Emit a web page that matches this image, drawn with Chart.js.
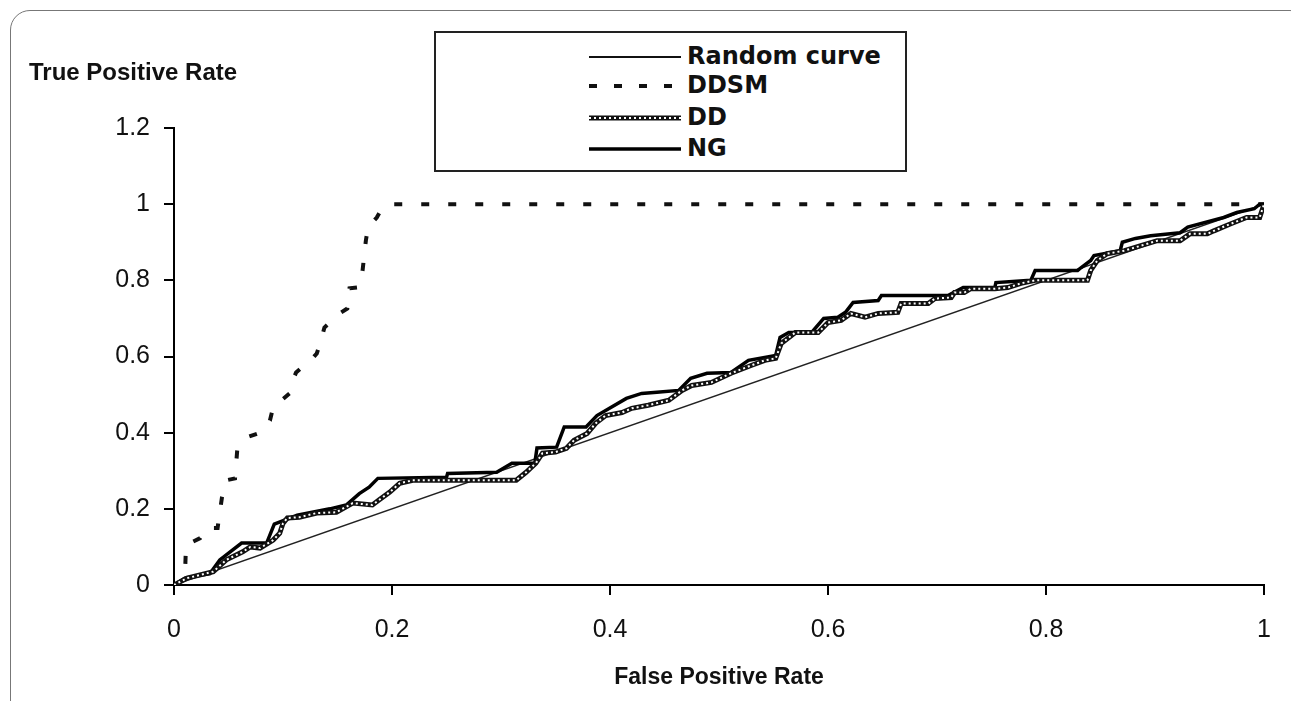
<!DOCTYPE html>
<html>
<head>
<meta charset="utf-8">
<script src="https://cdn.jsdelivr.net/npm/chart.js@4/dist/chart.umd.min.js"></script>
<style>
  body { margin: 0; background: #fff; width: 1291px; height: 701px; overflow: hidden; position: relative; }
  #frame { position: absolute; left: 10px; top: 10px; width: 1300px; height: 800px;
           border: 1.5px solid #777; border-radius: 20px; box-sizing: border-box; }
  #roc { position: absolute; left: 0; top: 0; width: 1291px; height: 701px; }
  #ytitle { position: absolute; left: 29px; top: 58px; font: bold 24px "Liberation Sans", Arial, sans-serif; color: #111; }
  #legend { position: absolute; left: 434px; top: 31px; width: 473px; height: 141px;
            border: 2px solid #222; box-sizing: border-box; background: #fff; }
  .row { position: absolute; left: 0; height: 30px; width: 100%; }
  .row svg { position: absolute; left: 151px; top: 0; }
  .row span { position: absolute; left: 251px; top: 0; line-height: 30px;
              font: bold 24px "DejaVu Sans", Verdana, sans-serif; color: #111; }
</style>
</head>
<body>
<div id="frame"></div>
<canvas id="roc" width="1291" height="701"></canvas>
<div id="ytitle">True Positive Rate</div>
<div id="legend"></div>
<script>
// Random curve (diagonal)
var randomX = [0, 1];
var randomY = [0, 1];

// DDSM
var ddsmX = [0, 0.004, 0.01, 0.011, 0.024, 0.03, 0.04, 0.044, 0.048, 0.056, 0.058, 0.067, 0.079, 0.088, 0.091,
             0.106, 0.109, 0.112, 0.127, 0.131, 0.134, 0.138, 0.152, 0.159, 0.161, 0.17, 0.173, 0.176, 0.178,
             0.186, 0.191, 0.198, 1];
var ddsmY = [0, 0.005, 0.02, 0.105, 0.123, 0.15, 0.15, 0.23, 0.275, 0.28, 0.354, 0.388, 0.40, 0.432, 0.467,
             0.503, 0.537, 0.558, 0.595, 0.608, 0.634, 0.676, 0.713, 0.726, 0.779, 0.782, 0.826, 0.904, 0.94,
             0.965, 0.99, 1.0, 1.0];

// DD
var ddX = [0, 0.012, 0.036, 0.048, 0.063, 0.07, 0.079, 0.091, 0.097, 0.1, 0.104, 0.115, 0.131, 0.149, 0.164,
           0.182, 0.188, 0.198, 0.207, 0.219, 0.255, 0.314, 0.323, 0.332, 0.338, 0.35, 0.36, 0.367, 0.379,
           0.387, 0.396, 0.411, 0.42, 0.435, 0.454, 0.466, 0.475, 0.493, 0.511, 0.53, 0.542, 0.552, 0.557,
           0.57, 0.591, 0.6, 0.612, 0.621, 0.634, 0.646, 0.664, 0.667, 0.692, 0.698, 0.713, 0.716, 0.725,
           0.731, 0.753, 0.765, 0.777, 0.79, 0.838, 0.841, 0.847, 0.856, 0.872, 0.887, 0.902, 0.923, 0.932,
           0.948, 0.954, 0.969, 0.984, 0.996, 1.0];
var ddY = [0, 0.018, 0.035, 0.066, 0.087, 0.1, 0.097, 0.118, 0.136, 0.162, 0.176, 0.178, 0.189, 0.191, 0.215,
           0.21, 0.223, 0.244, 0.267, 0.275, 0.275, 0.275, 0.296, 0.32, 0.346, 0.349, 0.359, 0.38, 0.398,
           0.425, 0.445, 0.453, 0.464, 0.472, 0.485, 0.511, 0.524, 0.532, 0.556, 0.577, 0.59, 0.595, 0.634,
           0.663, 0.663, 0.689, 0.695, 0.713, 0.703, 0.713, 0.716, 0.739, 0.739, 0.752, 0.755, 0.768, 0.768,
           0.778, 0.778, 0.781, 0.792, 0.8, 0.8, 0.826, 0.852, 0.87, 0.878, 0.891, 0.904, 0.904, 0.922,
           0.922, 0.93, 0.948, 0.965, 0.965, 1.0];

// NG
var ngX = [0, 0.01, 0.033, 0.042, 0.062, 0.085, 0.092, 0.113, 0.143, 0.158, 0.17, 0.179, 0.187, 0.25, 0.251,
           0.296, 0.31, 0.331, 0.333, 0.351, 0.358, 0.378, 0.388, 0.415, 0.429, 0.443, 0.463, 0.474, 0.489,
           0.511, 0.527, 0.552, 0.556, 0.564, 0.585, 0.596, 0.609, 0.616, 0.623, 0.646, 0.649, 0.71, 0.724,
           0.753, 0.754, 0.786, 0.79, 0.829, 0.832, 0.841, 0.844, 0.868, 0.87, 0.882, 0.896, 0.923, 0.93,
           0.963, 0.975, 0.991, 0.996, 1.0];
var ngY = [0, 0.018, 0.03, 0.066, 0.11, 0.11, 0.16, 0.183, 0.2, 0.21, 0.24, 0.257, 0.28, 0.283, 0.293,
           0.296, 0.32, 0.32, 0.36, 0.362, 0.415, 0.415, 0.445, 0.49, 0.503, 0.506, 0.511, 0.543, 0.556,
           0.558, 0.59, 0.603, 0.65, 0.663, 0.663, 0.7, 0.703, 0.716, 0.742, 0.747, 0.76, 0.76, 0.781,
           0.781, 0.794, 0.8, 0.826, 0.826, 0.833, 0.852, 0.865, 0.878, 0.9, 0.91, 0.917, 0.925, 0.94,
           0.965, 0.978, 0.988, 1.0, 1.0];

var yTicks = [0, 0.2, 0.4, 0.6, 0.8, 1, 1.2];
var xTicks = [0, 0.2, 0.4, 0.6, 0.8, 1];

function pts(xs, ys) {
    var out = [];
    for (var i = 0; i < xs.length; i++) out.push({ x: xs[i], y: ys[i] });
    return out;
}
function tickText(v) { return String(Math.round(v * 10) / 10); }

var tickFont = { family: '"Liberation Sans", Arial, sans-serif', size: 25 };

var chart = new Chart(document.getElementById('roc'), {
    type: 'scatter',
    data: {
        datasets: [
            { label: 'DD', data: pts(ddX, ddY), showLine: true, borderColor: '#fff', borderWidth: 2,
              borderDash: [2, 3], pointRadius: 0, order: 0 },
            { label: 'DD', data: pts(ddX, ddY), showLine: true, borderColor: '#111', borderWidth: 5,
              pointRadius: 0, order: 1 },
            { label: 'NG', data: pts(ngX, ngY), showLine: true, borderColor: '#000', borderWidth: 3.5,
              pointRadius: 0, order: 2 },
            { label: 'DDSM', data: pts(ddsmX, ddsmY), showLine: true, borderColor: '#111', borderWidth: 4,
              borderDash: [8, 19], pointRadius: 0, order: 3 },
            { label: 'Random curve', data: pts(randomX, randomY), showLine: true, borderColor: '#222',
              borderWidth: 1.5, pointRadius: 0, order: 4 }
        ]
    },
    options: {
        responsive: false,
        animation: false,
        devicePixelRatio: 1,
        layout: { padding: { left: 0, top: 128, right: 22, bottom: 0 } },
        plugins: { legend: { display: false }, tooltip: { enabled: false } },
        scales: {
            x: {
                type: 'linear', min: 0, max: 1,
                afterBuildTicks: function (s) { s.ticks = xTicks.map(function (v) { return { value: v }; }); },
                afterFit: function (s) { s.height = 116; },
                ticks: { font: tickFont, color: '#111', padding: 20, maxRotation: 0, callback: tickText },
                grid: { drawOnChartArea: false, drawTicks: true, tickLength: 10, color: '#000', lineWidth: 2 },
                border: { display: true, color: '#000', width: 2 },
                title: { display: true, text: 'False Positive Rate', color: '#111',
                         font: { family: '"Liberation Sans", Arial, sans-serif', size: 23, weight: 'bold' },
                         padding: { top: 0, bottom: 10 } }
            },
            y: {
                type: 'linear', min: 0, max: 1.2,
                afterBuildTicks: function (s) { s.ticks = yTicks.map(function (v) { return { value: v }; }); },
                afterFit: function (s) { s.width = 174; },
                ticks: { font: tickFont, color: '#111', padding: 14, callback: tickText },
                grid: { drawOnChartArea: false, drawTicks: true, tickLength: 10, color: '#000', lineWidth: 2 },
                border: { display: true, color: '#000', width: 2 }
            }
        }
    }
});

// legend
var legendRows = [
    { text: 'Random curve', top: 9 },
    { text: 'DDSM', top: 38 },
    { text: 'DD', top: 70 },
    { text: 'NG', top: 101 }
];
var legendSvg = [
    '<line x1="2" y1="15" x2="94" y2="15" stroke="#111" stroke-width="2"/>',
    '<line x1="2" y1="15" x2="94" y2="15" stroke="#111" stroke-width="4" stroke-dasharray="8,17"/>',
    '<line x1="2" y1="15" x2="94" y2="15" stroke="#111" stroke-width="5"/>' +
    '<line x1="2" y1="15" x2="94" y2="15" stroke="#fff" stroke-width="2" stroke-dasharray="2,3"/>',
    '<line x1="2" y1="15" x2="94" y2="15" stroke="#000" stroke-width="3.5"/>'
];
var leg = document.getElementById('legend');
legendRows.forEach(function (r, i) {
    var d = document.createElement('div');
    d.className = 'row';
    d.style.top = r.top + 'px';
    d.innerHTML = '<svg width="96" height="30">' + legendSvg[i] + '</svg><span>' + r.text + '</span>';
    leg.appendChild(d);
});
</script>
</body>
</html>
